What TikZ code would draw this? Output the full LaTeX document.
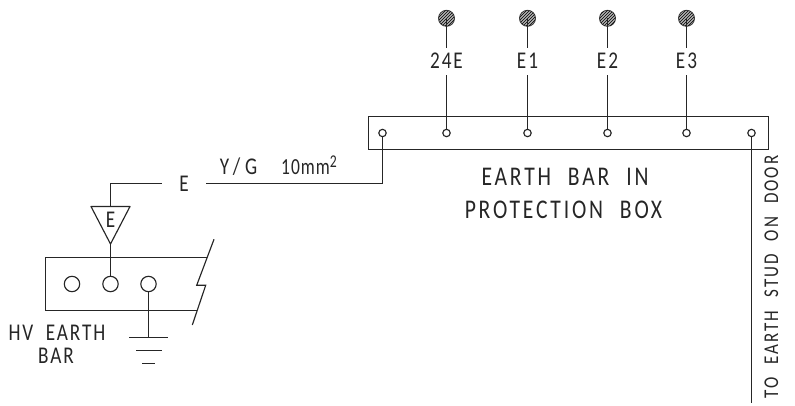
\documentclass[tikz,border=0pt]{standalone}
\usepackage{fontspec}
\setmainfont{Carlito}
\newfontfamily\cadfont[LetterSpace=10,WordSpace=2]{Carlito}
\newfontfamily\cadbig[LetterSpace=13,WordSpace=2.2]{Carlito}
\newfontfamily\caddoor[LetterSpace=12,WordSpace=2.2]{Carlito}
\newfontfamily\cadmm[LetterSpace=6]{Carlito}
\newfontfamily\cadyg[LetterSpace=25]{Carlito}
\usetikzlibrary{patterns}
\tikzset{
  x=1pt,y=-1pt,
  wire/.style={line width=1.15pt,black!85},
  term/.style={circle,draw=black!85,line width=1.15pt,fill=white,inner sep=0pt,minimum size=7.4pt},
  stud/.style={circle,draw=black!75,line width=.9pt,fill=black!30,inner sep=0pt,minimum size=16pt},
  hatch/.style={circle,pattern=north east lines,pattern color=black,inner sep=0pt,minimum size=16pt},
  hole/.style={circle,draw=black!85,line width=1.15pt,fill=white,inner sep=0pt,minimum size=15.4pt},
  lab/.style={inner sep=0pt,text=black!85,xscale=.8,transform shape,font=\cadfont\fontsize{24}{26}\selectfont},
  biglab/.style={inner sep=0pt,text=black!85,xscale=.8,transform shape,font=\cadbig\fontsize{27}{30}\selectfont},
  doorlab/.style={inner sep=0pt,text=black!85,rotate=90,xscale=.81,transform shape,font=\caddoor\fontsize{21}{24}\selectfont},
  mmlab/.style={inner sep=0pt,text=black!85,anchor=base west,xscale=.76,transform shape,font=\cadmm\fontsize{23}{25}\selectfont},
}
\begin{document}
\begin{tikzpicture}
\useasboundingbox (0,0) rectangle (795,405);
% protection box
\draw[wire] (368.5,116.5) rectangle (768.5,149.5);
\node[term] (t0) at (382.5,133) {};
\node[term] (t1) at (446.5,133) {};
\node[term] (t2) at (527.5,133) {};
\node[term] (t3) at (607.5,133) {};
\node[term] (t4) at (686.5,133) {};
\node[term] (t5) at (751.5,133) {};
\foreach \n/\x/\l in {1/446.5/24E,2/527.5/E1,3/607.5/E2,4/686.5/E3}{
  \node[stud] (s\n) at (\x,18.3) {};
  \node[hatch] at (\x,18.3) {};
  \node[lab] (l\n) at (\x,61) {\l};
  \coordinate (a\n) at (\x,47.5);
  \coordinate (b\n) at (\x,75);
  \draw[wire] (\x,18.3) -- (a\n);
  \draw[wire] (b\n) -- (t\n);
}
% right run
\coordinate (doorend) at (751.5,403);
\draw[wire] (t5) -- (doorend);
\node[doorlab] (door) at (771.5,277) {TO EARTH STUD ON DOOR};
% earth wire
\node[lab] (e) at (184,184) {E};
\coordinate (c1) at (382.5,183.5);
\coordinate (c2) at (206,183.5);
\draw[wire] (t0) -- (c1) -- (c2);
\coordinate (c3) at (161.7,183.5);
\coordinate (c4) at (110.5,183.5);
\coordinate (tritop) at (110.5,206);
\draw[wire] (c3) -- (c4) -- (tritop);
\node[lab,font=\cadyg\fontsize{24}{26}\selectfont] (yg) at (238.5,167) {Y/G};
\node[mmlab] (mm) at (281,174.5) {10mm\raisebox{7pt}{\fontsize{18}{18}\selectfont 2}};
\node[biglab] (bar1) at (565,177.3) {EARTH BAR IN};
\node[biglab] (bar2) at (563.5,209.5) {PROTECTION BOX};
% triangle
\coordinate (apex) at (110.5,244);
\draw[wire,line join=round] (91,206.5) -- (130,206.5) -- (apex) -- cycle;
\node[lab] (etri) at (110.5,220) {E};
% HV bar
\draw[wire] (206.7,257.5) -- (45.5,257.5) -- (45.5,310.5) -- (196.7,310.5);
\draw[wire] (214,239.3) -- (196.7,285.3) -- (205.7,285.3) -- (192.3,325);
\node[hole] (h1) at (72,284) {};
\node[hole] (h2) at (110.5,284) {};
\node[hole] (h3) at (148.5,284) {};
\draw[wire] (apex) -- (h2);
\coordinate (g0) at (148.5,337.5);
\draw[wire] (h3) -- (g0);
\draw[wire] (129,337.5) -- (168,337.5);
\draw[wire] (136,350.5) -- (162,350.5);
\draw[wire] (142,363.5) -- (155,363.5);
\node[lab] (hv1) at (57,333) {HV EARTH};
\node[lab] (hv2) at (56,356) {BAR};
\end{tikzpicture}
\end{document}
